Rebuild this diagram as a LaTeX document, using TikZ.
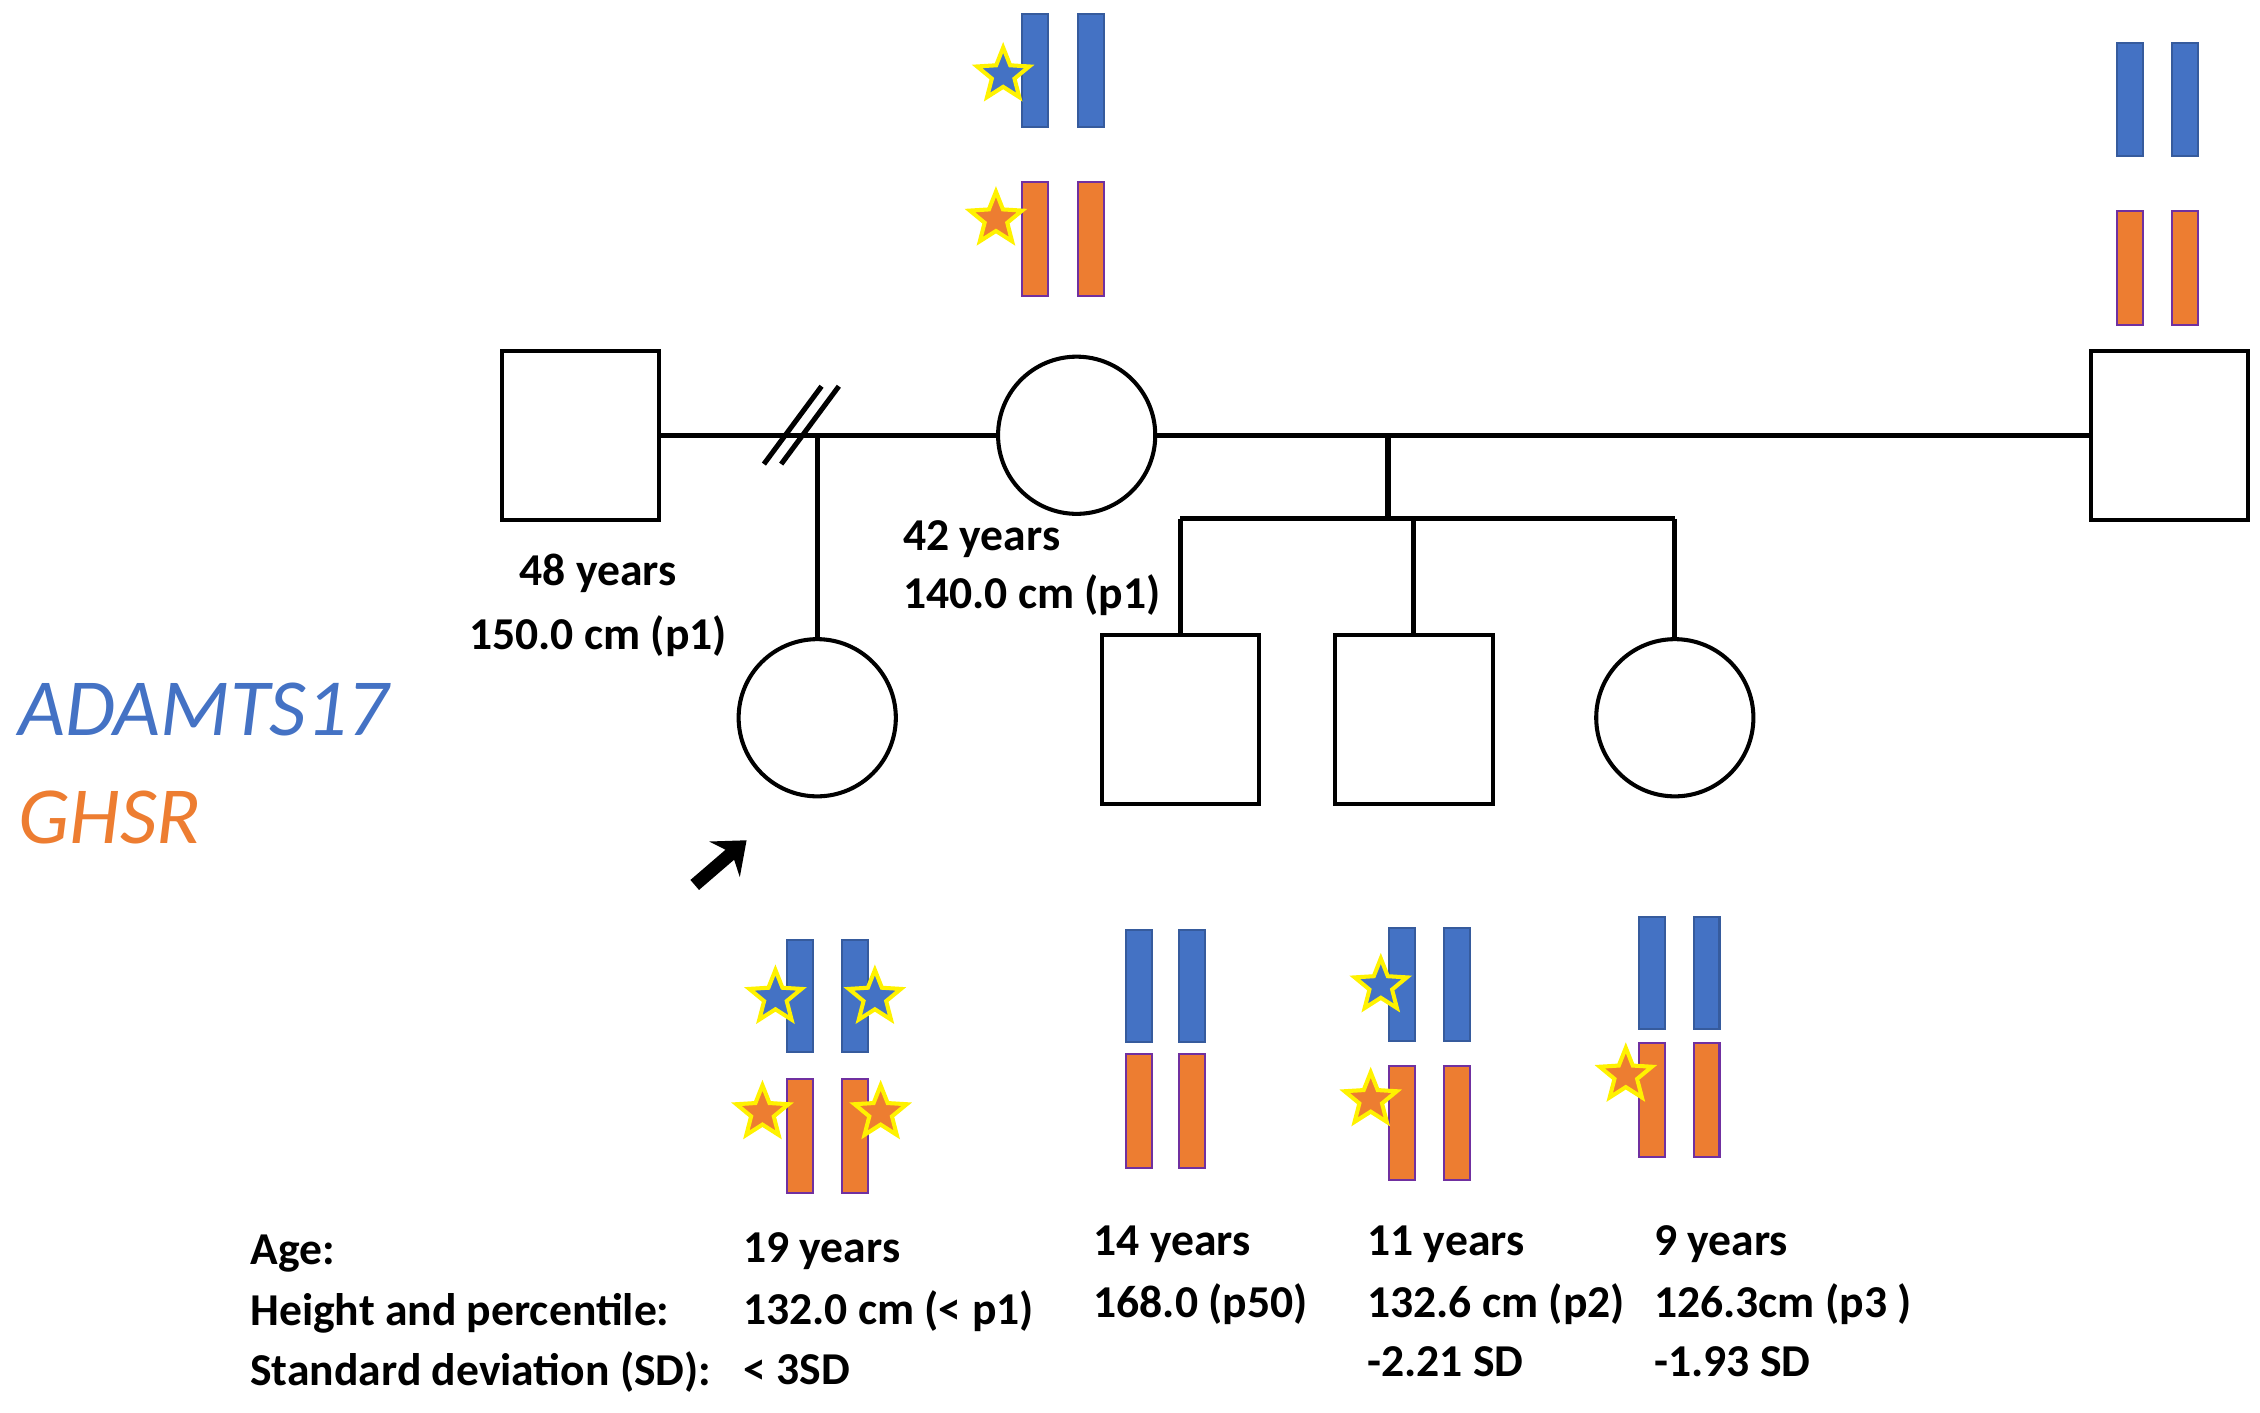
\documentclass[tikz,border=0pt]{standalone}
\usepackage{fontspec}
\setmainfont{Carlito}
\usetikzlibrary{shapes.geometric,arrows.meta}
\definecolor{cb}{HTML}{4472C4}
\definecolor{co}{HTML}{ED7D31}
\definecolor{cp}{HTML}{7030A0}
\begin{document}
\begin{tikzpicture}[x=0.01cm,y=-0.01cm,
  sq/.style={draw,thick,minimum width=1.09cm,minimum height=1.17cm,inner sep=0},
  ci/.style={draw,thick,circle,minimum size=1.09cm,inner sep=0},
  ln/.style={line width=1pt},
  lab/.style={font=\bfseries\fontsize{9}{11.5}\selectfont,align=left,inner sep=0,anchor=west},
  bc/.style={fill=cb,draw=cb!80!black,minimum width=0.18cm,minimum height=0.78cm,inner sep=0},
  oc/.style={fill=co,draw=cp,minimum width=0.18cm,minimum height=0.79cm,inner sep=0},
  bs/.style={star,star points=5,star point ratio=2.3,fill=cb,draw=yellow,thick,minimum size=0.38cm,inner sep=0},
  os/.style={star,star points=5,star point ratio=2.3,fill=co,draw=yellow,thick,minimum size=0.38cm,inner sep=0}]
\useasboundingbox (0,0) rectangle (1568,980);
% individuals
\node[sq] (f1) at (403,302) {};
\node[ci] (m) at (747,302) {};
\node[sq] (f2) at (1505,302) {};
\node[ci] (p) at (567,498) {};
\node[sq] (c2) at (819,499) {};
\node[sq] (c3) at (981,499) {};
\node[ci] (c4) at (1162,498) {};
% lines
\coordinate (d1) at (567,302);
\coordinate (s) at (963,302);
\coordinate (s2) at (963,360);
\coordinate (h2) at (819,360);
\coordinate (h3) at (981,360);
\coordinate (h4) at (1162,360);
\draw[ln] (f1.east) -- (m.west);
\draw[ln] (m.east) -- (f2.west);
\draw[ln] (d1) -- (p.north);
\draw[ln] (s) -- (s2);
\draw[ln] (h2) -- (h4);
\draw[ln] (h2) -- (c2.north);
\draw[ln] (h3) -- (c3.north);
\draw[ln] (h4) -- (c4.north);
\coordinate (k1a) at (530,322); \coordinate (k1b) at (570,268);
\coordinate (k2a) at (542,322); \coordinate (k2b) at (582,268);
\draw[ln] (k1a) -- (k1b);
\draw[ln] (k2a) -- (k2b);
% labels
\node[lab,align=center,anchor=center] (l1) at (415,420) {48 years\\[1pt]150.0 cm (p1)};
\node[lab] (l2) at (626,374) {42 years};
\node[lab] (l3) at (626,413) {140.0 cm (p1)};
\node[anchor=west,inner sep=0,text=cb,font=\itshape\fontsize{16}{18}\selectfont] (ga) at (12,492) {ADAMTS17};
\node[anchor=west,inner sep=0,text=co,font=\itshape\fontsize{16}{18}\selectfont] (gb) at (12,567) {GHSR};
\coordinate (a0) at (482,614); \coordinate (a1) at (518,583);
\draw[line width=2.6pt,-{Stealth[length=0.2cm,width=0.32cm]}] (a0) -- (a1);
% chromosomes mother
\node[bc] (mb1) at (718,49) {}; \node[bc] (mb2) at (757,49) {};
\node[oc] (mo1) at (718,166) {}; \node[oc] (mo2) at (757,166) {};
\node[bs] at (696,52) {}; \node[os] at (691,152) {};
% father2
\node[bc] (fb1) at (1478,69) {}; \node[bc] (fb2) at (1516,69) {};
\node[oc] (fo1) at (1478,186) {}; \node[oc] (fo2) at (1516,186) {};
% proband
\node[bc] (pb1) at (555,691) {}; \node[bc] (pb2) at (593,691) {};
\node[oc] (po1) at (555,788) {}; \node[oc] (po2) at (593,788) {};
\node[bs] at (538,692) {}; \node[bs] at (607,692) {};
\node[os] at (529,772) {}; \node[os] at (611,772) {};
% child2
\node[bc] (ab1) at (790,684) {}; \node[bc] (ab2) at (827,684) {};
\node[oc] (ao1) at (790,771) {}; \node[oc] (ao2) at (827,771) {};
% child3
\node[bc] (bb1) at (973,683) {}; \node[bc] (bb2) at (1011,683) {};
\node[oc] (bo1) at (973,779) {}; \node[oc] (bo2) at (1011,779) {};
\node[bs] at (958,684) {}; \node[os] at (951,763) {};
% child4
\node[bc] (cb1) at (1146,675) {}; \node[bc] (cb2) at (1184,675) {};
\node[oc] (co1) at (1146,763) {}; \node[oc] (co2) at (1184,763) {};
\node[os] at (1128,746) {};
% bottom table
\node[lab] (t1) at (173,870) {Age:};
\node[lab] (t2) at (173,911) {Height and percentile:};
\node[lab] (t3) at (173,952) {Standard deviation (SD):};
\node[lab] (p1) at (515,868) {19 years};
\node[lab] (p2) at (515,910) {132.0 cm (< p1)};
\node[lab] (p3) at (515,950) {< 3SD};
\node[lab] (q1) at (758,863) {14 years};
\node[lab] (q2) at (758,905) {168.0 (p50)};
\node[lab] (r1) at (948,863) {11 years};
\node[lab] (r2) at (948,905) {132.6 cm (p2)};
\node[lab] (r3) at (948,945) {-2.21 SD};
\node[lab] (u1) at (1147,863) {9 years};
\node[lab] (u2) at (1147,905) {126.3cm (p3 )};
\node[lab] (u3) at (1147,945) {-1.93 SD};
\end{tikzpicture}
\end{document}
